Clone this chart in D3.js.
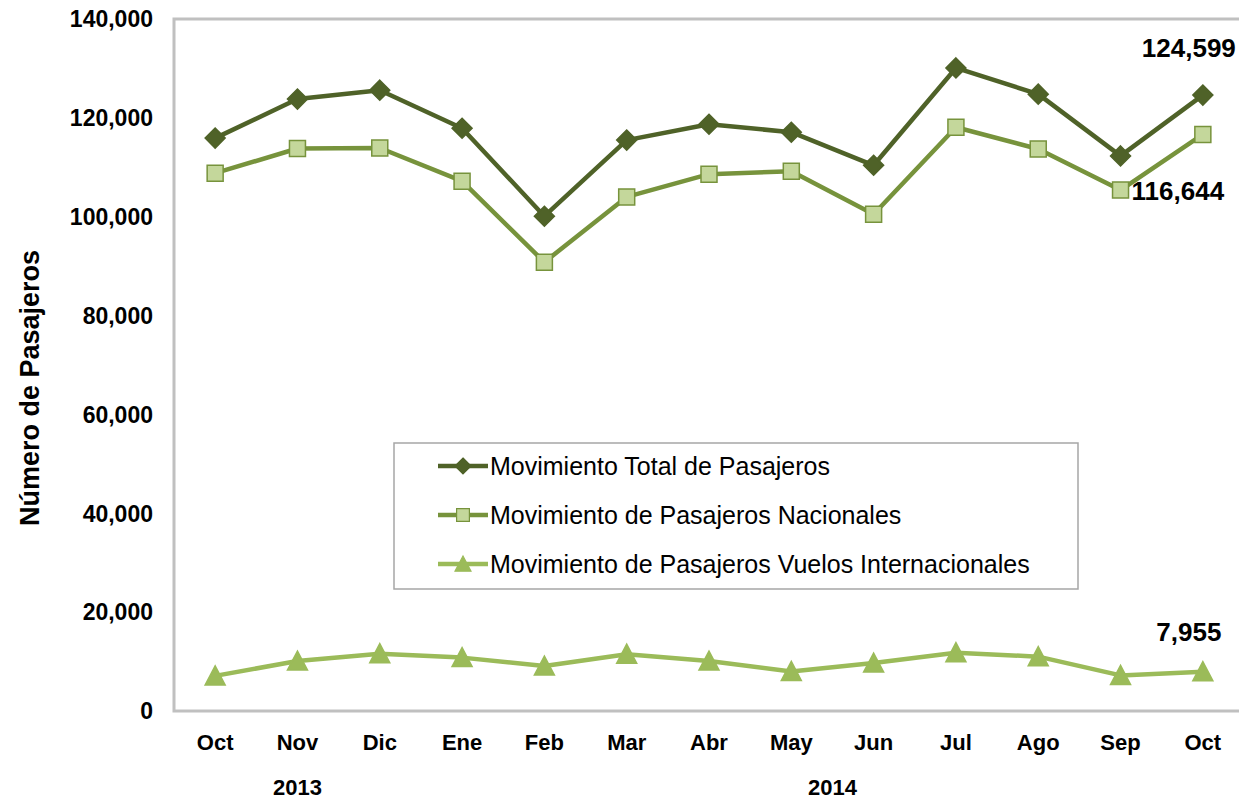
<!DOCTYPE html>
<html>
<head>
<meta charset="utf-8">
<script src="https://cdn.jsdelivr.net/npm/d3@7"></script>
<style>
  body { margin: 0; background: #fff; }
  text { font-family: "Liberation Sans", Arial, sans-serif; }
</style>
</head>
<body>
<div id="chart"></div>
<script>
// data
var months = ["Oct", "Nov", "Dic", "Ene", "Feb", "Mar", "Abr", "May", "Jun", "Jul", "Ago", "Sep", "Oct"];
var total = [115900, 123800, 125600, 117900, 100100, 115500, 118700, 117100, 110400, 130100, 124800, 112300, 124599];
var nacionales = [108800, 113800, 113900, 107200, 90800, 104000, 108600, 109200, 100500, 118100, 113700, 105400, 116644];
var internacionales = [7100, 10100, 11600, 10800, 9100, 11500, 10100, 8000, 9700, 11800, 11000, 7200, 7955];
var yTicks = [0, 20000, 40000, 60000, 80000, 100000, 120000, 140000];
var years = [{ label: "2013", at: 1 }, { label: "2014", at: 7.5 }];
var seriesNames = ["Movimiento Total de Pasajeros", "Movimiento de Pasajeros Nacionales", "Movimiento de Pasajeros Vuelos Internacionales"];

var W = 1239, H = 800;
var margin = { top: 19, right: -5, bottom: 89, left: 174 };

var svg = d3.select("#chart").append("svg")
    .attr("width", W)
    .attr("height", H);

var x = d3.scaleBand()
    .domain(d3.range(months.length))
    .range([margin.left, W - margin.right]);

var y = d3.scaleLinear()
    .domain([0, 140000])
    .range([H - margin.bottom, margin.top]);

var cx = function (i) { return x(i) + x.bandwidth() / 2; };
var fmt = d3.format(",");

// plot frame
svg.append("rect")
    .attr("x", margin.left)
    .attr("y", margin.top)
    .attr("width", W - margin.right - margin.left)
    .attr("height", y(0) - margin.top)
    .attr("fill", "none")
    .attr("stroke", "#c0c0c0")
    .attr("stroke-width", 3);

// y axis labels
svg.append("g").selectAll("text")
    .data(yTicks)
    .enter().append("text")
    .attr("x", 153)
    .attr("y", function (d) { return y(d); })
    .attr("dy", "0.36em")
    .attr("text-anchor", "end")
    .style("font-size", "23px")
    .style("font-weight", "bold")
    .text(function (d) { return fmt(d); });

svg.append("text")
    .attr("transform", "translate(39," + 388 + ") rotate(-90)")
    .attr("text-anchor", "middle")
    .style("font-size", "27px")
    .style("font-weight", "bold")
    .text("Número de Pasajeros");

// x labels
svg.append("g").selectAll("text")
    .data(months)
    .enter().append("text")
    .attr("x", function (d, i) { return cx(i); })
    .attr("y", 750)
    .attr("text-anchor", "middle")
    .style("font-size", "22px")
    .style("font-weight", "bold")
    .text(function (d) { return d; });

svg.append("g").selectAll("text")
    .data(years)
    .enter().append("text")
    .attr("x", function (d) { return x(0) + x.bandwidth() * (d.at + 0.5); })
    .attr("y", 795)
    .attr("text-anchor", "middle")
    .style("font-size", "22px")
    .style("font-weight", "bold")
    .text(function (d) { return d.label; });

var series = [
    { name: seriesNames[0], values: total, line: "#4f6228", marker: "diamond", fill: "#4f6228", stroke: "#4f6228" },
    { name: seriesNames[1], values: nacionales, line: "#77933c", marker: "square", fill: "#c4d79b", stroke: "#77933c" },
    { name: seriesNames[2], values: internacionales, line: "#9bbb59", marker: "triangle", fill: "#9bbb59", stroke: "#9bbb59" }
];

function markerPath(type) {
    if (type == "diamond") return "M0,-10L10,0L0,10L-10,0Z";
    if (type == "square") return "M-8,-8H8V8H-8Z";
    return "M0,-10L10,9H-10Z";
}

var line = d3.line()
    .x(function (d, i) { return cx(i); })
    .y(function (d) { return y(d); });

series.forEach(function (s) {
    var g = svg.append("g");
    g.append("path")
        .datum(s.values)
        .attr("d", line)
        .attr("fill", "none")
        .attr("stroke", s.line)
        .attr("stroke-width", 4.5)
        .attr("stroke-linejoin", "round");
    g.selectAll("path.m")
        .data(s.values)
        .enter().append("path")
        .attr("class", "m")
        .attr("d", markerPath(s.marker))
        .attr("transform", function (d, i) { return "translate(" + cx(i) + "," + y(d) + ")"; })
        .attr("fill", s.fill)
        .attr("stroke", s.stroke)
        .attr("stroke-width", 1.5);
});

// value labels on the last point
var last = months.length - 1;
var labels = [
    { v: total[last], dx: -14, dy: -38 },
    { v: nacionales[last], dx: -25, dy: 66 },
    { v: internacionales[last], dx: -14, dy: -31 }
];
svg.append("g").selectAll("text")
    .data(labels)
    .enter().append("text")
    .attr("x", function (d) { return cx(last) + d.dx; })
    .attr("y", function (d) { return y(d.v) + d.dy; })
    .attr("text-anchor", "middle")
    .style("font-size", "26px")
    .style("font-weight", "bold")
    .text(function (d) { return fmt(d.v); });

// legend
var legend = svg.append("g").attr("transform", "translate(394,443)");
legend.append("rect")
    .attr("width", 684)
    .attr("height", 146)
    .attr("fill", "#fff")
    .attr("stroke", "#a6a6a6")
    .attr("stroke-width", 1.5);

var rows = legend.selectAll("g")
    .data(series)
    .enter().append("g")
    .attr("transform", function (d, i) { return "translate(0," + (23 + i * 49) + ")"; });
rows.append("line")
    .attr("x1", 44).attr("x2", 94)
    .attr("stroke", function (d) { return d.line; })
    .attr("stroke-width", 4.5);
rows.append("path")
    .attr("d", function (d) { return markerPath(d.marker); })
    .attr("transform", "translate(69,0) scale(0.8)")
    .attr("fill", function (d) { return d.fill; })
    .attr("stroke", function (d) { return d.stroke; })
    .attr("stroke-width", 1.5);
rows.append("text")
    .attr("x", 96)
    .attr("dy", "0.36em")
    .style("font-size", "25px")
    .text(function (d) { return d.name; });
</script>
</body>
</html>
